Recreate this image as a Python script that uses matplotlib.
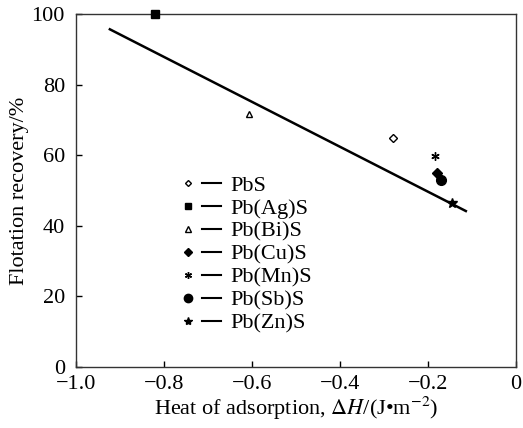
import numpy as np
import matplotlib.pyplot as plt
from matplotlib.lines import Line2D
from matplotlib.legend_handler import HandlerTuple

plt.rcParams['font.family'] = ['Liberation Serif', 'DejaVu Serif']
plt.rcParams['mathtext.fontset'] = 'stix'

samples = ['PbS', 'Pb(Ag)S', 'Pb(Bi)S', 'Pb(Cu)S', 'Pb(Mn)S', 'Pb(Sb)S', 'Pb(Zn)S']
heat = [-0.28, -0.82, -0.607, -0.179, -0.185, -0.170, -0.146]
recovery = [65.0, 100.0, 71.7, 55.0, 59.9, 52.9, 46.4]
fit_x = [-0.923, -0.114]
fit_y = [95.7, 44.2]

markers = ['D', 's', '^', 'D', (6, 2, 0), 'o', '*']
msizes = [4, 6, 5, 5, 6, 7, 7]
faces = ['white', 'black', 'white', 'black', 'black', 'black', 'black']

fig = plt.figure(figsize=(5.23, 4.28), dpi=100)
ax = fig.add_axes([0.1453, 0.1425, 0.8413, 0.8245])

ax.plot(fit_x, fit_y, color='black', lw=1.8, zorder=2)

handles = []
for i in range(len(samples)):
    ax.plot(heat[i], recovery[i], linestyle='none', marker=markers[i], ms=msizes[i],
            mfc=faces[i], mec='black', mew=1.0, zorder=3, clip_on=False)
    mk = Line2D([], [], linestyle='none', marker=markers[i], ms=msizes[i] - 1,
                mfc=faces[i], mec='black', mew=1.0)
    ln = Line2D([], [], color='black', lw=1.5)
    handles.append((mk, ln))

ax.legend(handles, samples, handler_map={tuple: HandlerTuple(ndivide=None, pad=0.2)},
          loc='upper left', bbox_to_anchor=(0.208, 0.575), frameon=False, fontsize=16,
          handlelength=1.9, labelspacing=0.11, handletextpad=0.45, borderpad=0)

ax.set_xlim(-1.0, 0)
ax.set_ylim(0, 100)
ax.set_xticks([-1.0, -0.8, -0.6, -0.4, -0.2, 0])
ax.set_xticklabels(['\u22121.0', '\u22120.8', '\u22120.6', '\u22120.4', '\u22120.2', '0'])
ax.set_yticks([0, 20, 40, 60, 80, 100])
ax.tick_params(direction='in', labelsize=16, length=4, width=1)
ax.tick_params(axis='x', pad=6)
ax.tick_params(axis='y', pad=8)
for s in ax.spines.values():
    s.set_linewidth(1.0)
    s.set_color('#333333')

ax.set_xlabel('Heat of adsorption, $\\Delta H$/(J\u2022m$^{-2}$)', fontsize=16, labelpad=0)
ax.set_ylabel('Flotation recovery/%', fontsize=16, labelpad=2)

fig.savefig('out.png', dpi=100)
